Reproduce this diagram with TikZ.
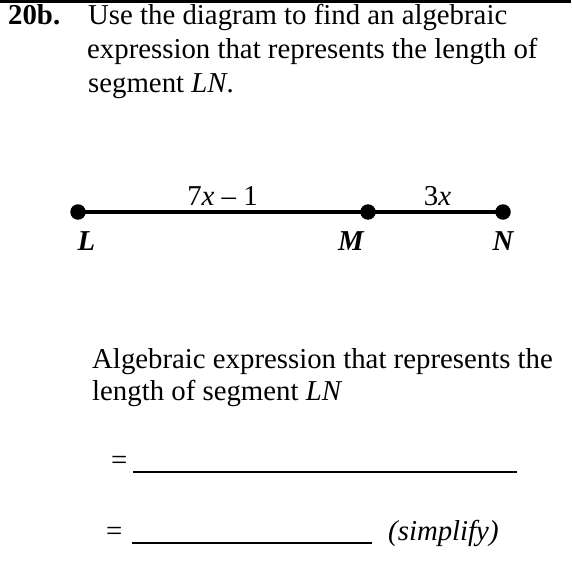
\documentclass[tikz,border=0pt]{standalone}
\usepackage{fontspec}
\setmainfont{Liberation Serif}
\usetikzlibrary{positioning}

\begin{document}
\begin{tikzpicture}[x=1pt, y=1pt,
    every node/.style={font=\fontsize{28.8}{34}\selectfont, inner sep=0pt},
    txt/.style={anchor=base west},
    dot/.style={circle, fill=black, minimum size=15.5pt},
    seg/.style={line width=3.2pt},
    ptlab/.style={anchor=base, font=\fontsize{28.8}{34}\selectfont\bfseries\itshape},
    blank/.style={line width=1.6pt}]
  \useasboundingbox (0,0) rectangle (571,-577);
  \fill[white] (0,0) rectangle (571,-577);
  \draw[line width=3pt] (0,-1.5) -- (571,-1.5);
  \node[txt, font=\fontsize{28.8}{34}\selectfont\bfseries] (num) at (8,-25) {20b.};
  \node[txt] (q1) at (88,-25) {Use the diagram to find an algebraic};
  \node[txt] (q2) at (87,-59) {expression that represents the length of};
  \node[txt] (q3) at (88,-93) {segment \textit{LN}.};
  \node[dot] (L) at (78,-212) {};
  \node[dot] (M) at (368,-212) {};
  \node[dot] (N) at (503,-212) {};
  \draw[seg] (L.center) -- (M.center) -- (N.center);
  \node[anchor=base] (lenLM) at (222.5,-205) {7\textit{x} – 1};
  \node[anchor=base] (lenMN) at (437.5,-205) {3\textit{x}};
  \node[ptlab] (labL) at (86.5,-250) {L};
  \node[ptlab] (labM) at (351,-250) {M};
  \node[ptlab] (labN) at (503,-250) {N};
  \node[txt] (a1) at (92,-368) {Algebraic expression that represents the};
  \node[txt] (a2) at (92,-400) {length of segment \textit{LN}};
  \node[txt] (eq1) at (111,-469) {=};
  \coordinate (b1s) at (133,-472);
  \coordinate (b1e) at (517,-472);
  \draw[blank] (b1s) -- (b1e);
  \node[txt] (eq2) at (106,-540) {=};
  \coordinate (b2s) at (132,-543);
  \coordinate (b2e) at (372,-543);
  \draw[blank] (b2s) -- (b2e);
  \node[txt] (simp) at (388,-540) {\textit{(simplify)}};
\end{tikzpicture}
\end{document}
